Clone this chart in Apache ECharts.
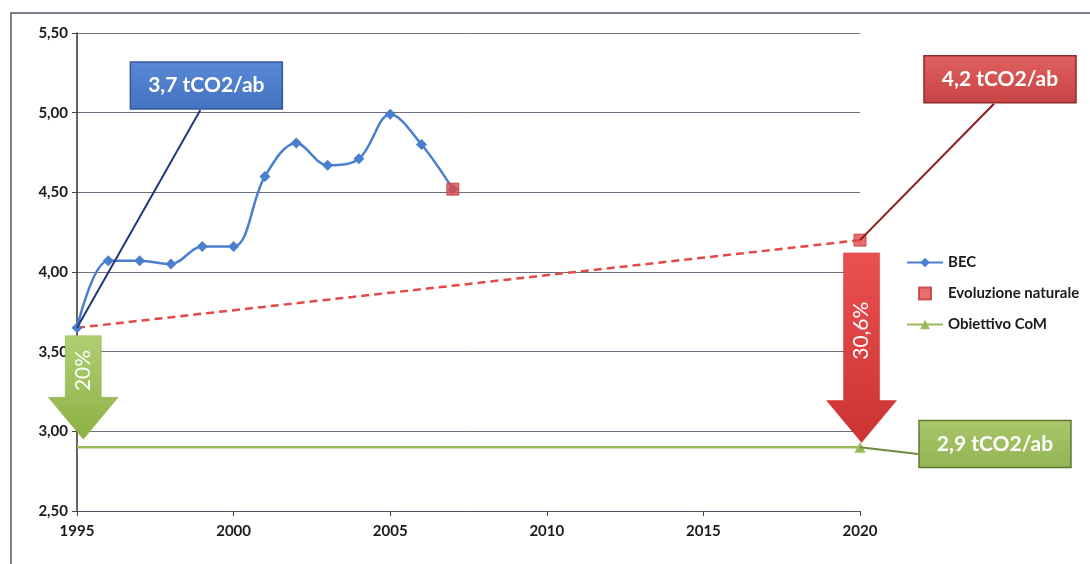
<!DOCTYPE html>
<html>
<head>
<meta charset="utf-8">
<style>
  html, body { margin: 0; padding: 0; background: #fff; }
  #chart { width: 1090px; height: 564px; }
</style>
<script src="https://cdn.jsdelivr.net/npm/echarts@6/dist/echarts.min.js"></script>
</head>
<body>
<div id="chart"></div>
<script>
// Emissioni pro capite (tCO2/ab)
const years = [1995, 1996, 1997, 1998, 1999, 2000, 2001, 2002, 2003, 2004, 2005, 2006, 2007];
const bec = [3.65, 4.07, 4.07, 4.05, 4.16, 4.16, 4.60, 4.81, 4.67, 4.71, 4.99, 4.80, 4.52];

// Evoluzione naturale: ultimo dato misurato e proiezione al 2020
const evoYears = [2007, 2020];
const evoValues = [4.52, 4.20];

// Andamento tendenziale 1995 -> 2020
const trendYears = [1995, 2020];
const trendValues = [3.65, 4.20];

// Obiettivo CoM al 2020
const comYears = [1995, 2020];
const comValues = [2.90, 2.90];

// Frecce di riduzione: [anno, valore iniziale, valore finale]
const arrowYears = [1995.2, 2020.05];
const arrowFrom = [3.60, 4.12];
const arrowTo = [2.95, 2.93];
const arrowLabels = ['20%', '30,6%'];

// Riquadri di commento: posizione del riquadro e punto indicato
const calloutLabels = ['3,7 tCO2/ab', '4,2 tCO2/ab', '2,9 tCO2/ab'];
const calloutBoxX = [1999.13, 2024.47, 2024.31];
const calloutBoxY = [5.17, 5.21, 2.92];
const calloutPointX = [1995, 2020, 2020];
const calloutPointY = [3.65, 4.20, 2.90];

const yTicks = [2.5, 3.0, 3.5, 4.0, 4.5, 5.0, 5.5];

const palette = {
  blue: '#4a7fd0',
  red: '#e24a4a',
  green: '#9bbb59'
};
const calloutStyles = [
  { fill: ['#5a8ad6', '#4272c0'], stroke: '#34589a', lead: '#1f3a78', side: 'bottom' },
  { fill: ['#e06060', '#c94444'], stroke: '#8e2a2a', lead: '#8a1c1c', side: 'bottom' },
  { fill: ['#a9c76a', '#93b354'], stroke: '#5f7a30', lead: '#6f8a3a', side: 'left' }
];
const arrowStyles = [
  ['#b0cf74', '#8db043'],
  ['#ea5050', '#cc3232']
];

const FONT = 'Lato, "Open Sans", sans-serif';

const chart = echarts.init(document.getElementById('chart'));

function grad(c) {
  return new echarts.graphic.LinearGradient(0, 0, 0, 1, [
    { offset: 0, color: c[0] }, { offset: 1, color: c[1] }
  ]);
}

chart.setOption({
  animation: false,
  backgroundColor: '#fff',
  grid: { left: 77, right: 230, top: 33, bottom: 53 },
  xAxis: {
    type: 'value',
    min: 1995, max: 2020, interval: 5,
    axisLine: { lineStyle: { color: '#555566', width: 1 } },
    axisTick: { show: true, length: 5, lineStyle: { color: '#444' } },
    splitLine: { show: false },
    axisLabel: {
      margin: 13,
      formatter: v => String(v),
      color: '#1a1a1a', fontFamily: FONT, fontWeight: 'bold', fontSize: 15
    }
  },
  yAxis: {
    type: 'value',
    min: yTicks[0], max: yTicks[yTicks.length - 1], interval: 0.5,
    axisLine: { show: true, lineStyle: { color: '#333', width: 1.5 } },
    axisTick: { show: true, length: 5, lineStyle: { color: '#444' } },
    splitLine: { lineStyle: { color: '#6d6d7d', width: 1 } },
    axisLabel: {
      margin: 9,
      formatter: v => v.toFixed(2).replace('.', ','),
      color: '#1a1a1a', fontFamily: FONT, fontWeight: 'bold', fontSize: 15
    }
  },
  legend: {
    orient: 'vertical',
    left: 901, top: 250,
    itemWidth: 36, itemHeight: 12, itemGap: 16,
    data: [
      { name: 'BEC' },
      { name: 'Evoluzione naturale', icon: 'path://M0,0L10,0L10,10L0,10Z' },
      { name: 'Obiettivo CoM' }
    ],
    textStyle: { color: '#1a1a1a', fontFamily: FONT, fontSize: 15, fontWeight: 'bold' }
  },
  series: [
    {
      name: 'trend',
      type: 'line',
      data: trendYears.map((y, i) => [y, trendValues[i]]),
      symbol: 'none',
      lineStyle: { color: palette.red, width: 2.5, type: [8, 5] },
      z: 2,
      silent: true
    },
    {
      name: 'Obiettivo CoM',
      type: 'line',
      data: comYears.map((y, i) => ({ value: [y, comValues[i]], symbol: i === 0 ? 'none' : 'triangle' })),
      symbol: 'triangle',
      symbolSize: 11,
      itemStyle: { color: palette.green },
      lineStyle: { color: palette.green, width: 2.5 },
      z: 3
    },
    {
      name: 'BEC',
      type: 'line',
      data: years.map((y, i) => [y, bec[i]]),
      smooth: 0.35,
      symbol: 'diamond',
      symbolSize: 11,
      itemStyle: { color: palette.blue },
      lineStyle: { color: palette.blue, width: 2.5 },
      z: 4
    },
    {
      name: 'Evoluzione naturale',
      type: 'scatter',
      data: evoYears.map((y, i) => [y, evoValues[i]]),
      symbol: 'rect',
      symbolSize: 12,
      itemStyle: { color: palette.red, borderColor: '#c23a3a', borderWidth: 1 },
      z: 6
    },
    {
      name: 'frecce',
      type: 'custom',
      clip: false,
      silent: true,
      z: 8,
      data: arrowYears.map((y, i) => [y, arrowFrom[i], arrowTo[i]]),
      renderItem: function (params, api) {
        const i = params.dataIndex;
        const top = api.coord([api.value(0), api.value(1)]);
        const tip = api.coord([api.value(0), api.value(2)]);
        const cx = top[0];
        const bodyW = 36, headW = 70, headH = 42;
        const headY = tip[1] - headH;
        const pts = [
          [cx - bodyW / 2, top[1]], [cx + bodyW / 2, top[1]],
          [cx + bodyW / 2, headY], [cx + headW / 2, headY],
          [cx, tip[1]],
          [cx - headW / 2, headY], [cx - bodyW / 2, headY]
        ];
        return {
          type: 'group',
          children: [
            {
              type: 'polygon',
              shape: { points: pts },
              style: { fill: grad(arrowStyles[i]), stroke: arrowStyles[i][1], lineWidth: 0.5 }
            },
            {
              type: 'text',
              x: cx, y: (top[1] + headY) / 2 + 4,
              rotation: Math.PI / 2,
              style: {
                text: arrowLabels[i],
                fill: '#fff', font: '21px ' + FONT,
                align: 'center', verticalAlign: 'middle'
              }
            }
          ]
        };
      }
    },
    {
      name: 'commenti',
      type: 'custom',
      clip: false,
      silent: true,
      z: 9,
      data: calloutBoxX.map((x, i) => [x, calloutBoxY[i], calloutPointX[i], calloutPointY[i]]),
      renderItem: function (params, api) {
        const i = params.dataIndex;
        const st = calloutStyles[i];
        const box = api.coord([api.value(0), api.value(1)]);
        const pt = api.coord([api.value(2), api.value(3)]);
        const w = 152, h = 47;
        const bx = box[0] - w / 2, by = box[1] - h / 2;
        const start = st.side === 'bottom'
          ? [box[0] - 6, by + h + 1]
          : [bx - 1, box[1] + 10];
        return {
          type: 'group',
          children: [
            {
              type: 'line',
              shape: { x1: pt[0], y1: pt[1], x2: start[0], y2: start[1] },
              style: { stroke: st.lead, lineWidth: 2 }
            },
            {
              type: 'rect',
              shape: { x: bx, y: by, width: w, height: h },
              style: { fill: grad(st.fill), stroke: st.stroke, lineWidth: 1.5 }
            },
            {
              type: 'text',
              x: box[0], y: box[1],
              style: {
                text: calloutLabels[i],
                fill: '#fff', font: 'bold 21px ' + FONT,
                align: 'center', verticalAlign: 'middle'
              }
            }
          ]
        };
      }
    }
  ],
  graphic: [
    {
      type: 'polyline',
      silent: true,
      shape: { points: [[11, 564], [11, 13], [1090, 13]] },
      style: { stroke: '#55556a', lineWidth: 1.5, fill: null }
    }
  ]
});
</script>
</body>
</html>
